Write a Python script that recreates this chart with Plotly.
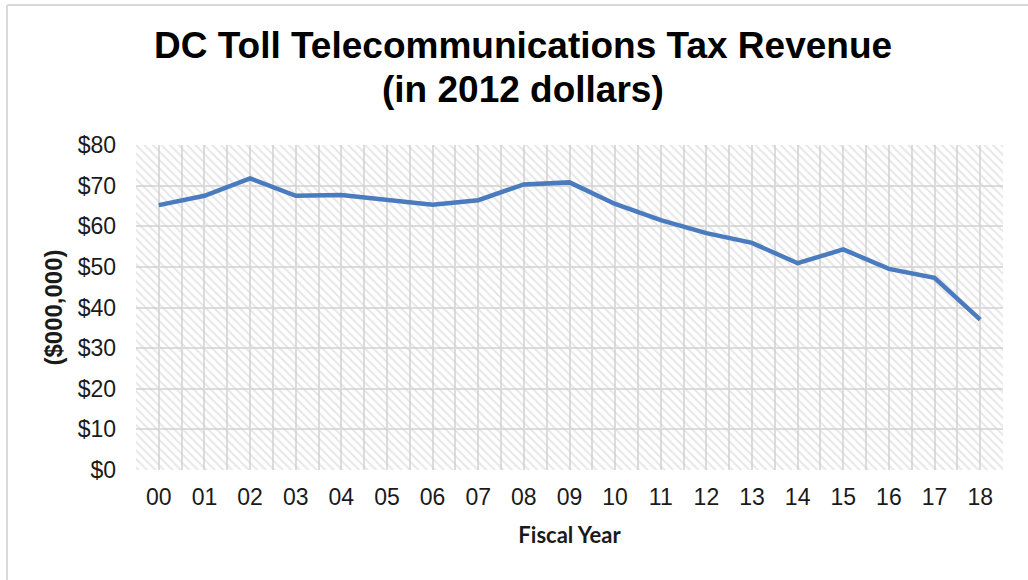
import plotly.graph_objects as go

title_lines = ["DC Toll Telecommunications Tax Revenue", "(in 2012 dollars)"]
years = ["00", "01", "02", "03", "04", "05", "06", "07", "08", "09",
         "10", "11", "12", "13", "14", "15", "16", "17", "18"]
revenue = [65.2, 67.5, 71.8, 67.5, 67.7, 66.5, 65.3, 66.4, 70.3, 70.8,
           65.5, 61.5, 58.3, 55.9, 50.9, 54.3, 49.5, 47.3, 37.0]
y_ticks = [0, 10, 20, 30, 40, 50, 60, 70, 80]
y_tick_labels = ["$" + str(v) for v in y_ticks]

W, H = 1028, 580
ML, MR, MT, MB = 136, 25, 145, 110
PW, PH = W - ML - MR, H - MT - MB

xs = list(range(len(years)))
x_lo, x_hi = -0.5, len(years) - 0.5
y_lo, y_hi = y_ticks[0], y_ticks[-1]

fig = go.Figure()

# hatched plot-area background
fig.add_trace(go.Scatter(
    x=[x_lo, x_hi, x_hi, x_lo, x_lo],
    y=[y_lo, y_lo, y_hi, y_hi, y_lo],
    mode="none", fill="toself",
    fillcolor="rgba(0,0,0,0)",
    fillpattern=dict(shape="\\", fgcolor="#cfcfcf", bgcolor="rgba(0,0,0,0)",
                     size=6, solidity=0.35),
    hoverinfo="skip", showlegend=False,
))

fig.add_trace(go.Scatter(
    x=xs, y=revenue, mode="lines",
    line=dict(color="#4a7bbf", width=4.5),
    showlegend=False,
))

def px_to_paper_x(p):
    return (p - ML) / PW

def px_to_paper_y(p):
    return (H - MB - p) / PH

# outer frame (top and left edges visible)
fig.add_shape(type="line", xref="paper", yref="paper",
              x0=px_to_paper_x(7), x1=px_to_paper_x(W + 10),
              y0=px_to_paper_y(5), y1=px_to_paper_y(5),
              line=dict(color="#d9d9d9", width=2))
fig.add_shape(type="line", xref="paper", yref="paper",
              x0=px_to_paper_x(7), x1=px_to_paper_x(7),
              y0=px_to_paper_y(5), y1=px_to_paper_y(H + 10),
              line=dict(color="#d9d9d9", width=2))

# title (two lines)
for txt, yc in zip(title_lines, [45, 89]):
    fig.add_annotation(
        text="<b>" + txt + "</b>", showarrow=False,
        xref="paper", yref="paper",
        x=px_to_paper_x(W / 2 + 9), y=px_to_paper_y(yc),
        xanchor="center", yanchor="middle",
        font=dict(family="Liberation Sans, Arial", size=37, color="#000000"),
    )

fig.update_layout(
    width=W, height=H,
    margin=dict(l=ML, r=MR, t=MT, b=MB, autoexpand=False),
    paper_bgcolor="white", plot_bgcolor="white",
    xaxis=dict(
        range=[x_lo, x_hi], tickmode="array", tickvals=xs, ticktext=years,
        showgrid=True, gridcolor="#dcdcdc", gridwidth=2,
        minor=dict(tick0=x_lo, dtick=1, showgrid=True, gridcolor="#dcdcdc", gridwidth=2),
        zeroline=False, showline=False, ticks="",
        ticklabelstandoff=11,
        tickfont=dict(family="Liberation Sans, Arial", size=23, color="#1a1a1a"),
        title=dict(text="<b>Fiscal Year</b>",
                   font=dict(family="Lato, Open Sans", size=22, color="#1a1a1a"),
                   standoff=18),
    ),
    yaxis=dict(
        range=[y_lo, y_hi], tickmode="array", tickvals=y_ticks, ticktext=y_tick_labels,
        showgrid=True, gridcolor="#dcdcdc", gridwidth=2,
        zeroline=False, showline=False, ticks="",
        ticklabelstandoff=19,
        tickfont=dict(family="Liberation Sans, Arial", size=23, color="#1a1a1a"),
        title=dict(text="<b>($000,000)</b>",
                   font=dict(family="Liberation Sans, Arial", size=24, color="#1a1a1a"),
                   standoff=8),
    ),
)

fig.write_html("out.html", config={"displayModeBar": False},
               post_script="document.body.style.margin='0';")
